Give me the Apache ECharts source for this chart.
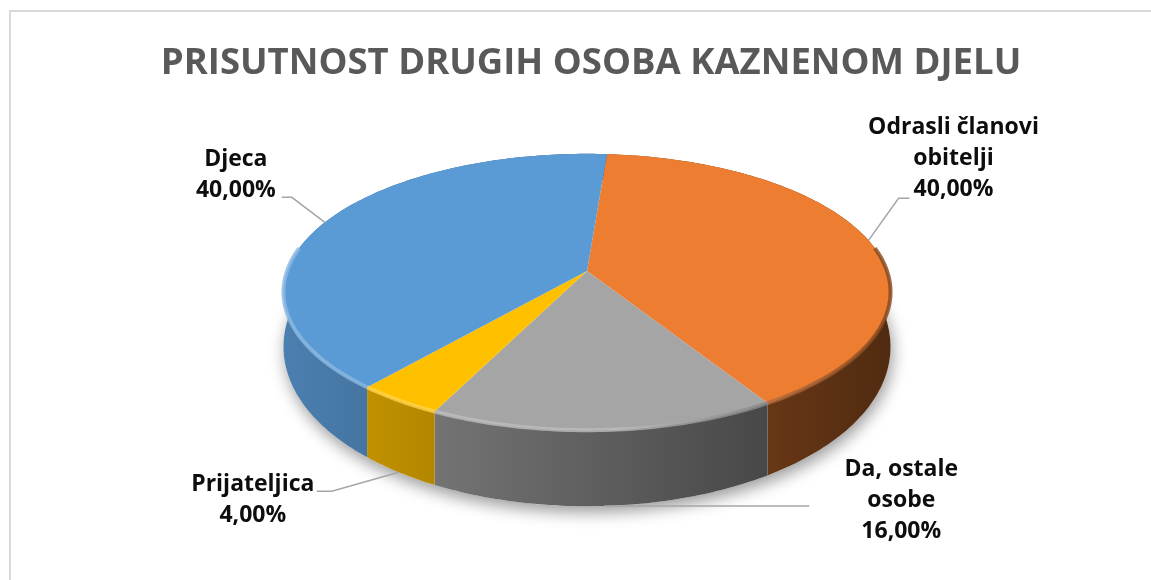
<!DOCTYPE html>
<html>
<head>
<meta charset="utf-8">
<title>Prisutnost drugih osoba kaznenom djelu</title>
<script src="https://cdn.jsdelivr.net/npm/echarts/dist/echarts.min.js"></script>
<style>
  html, body { margin: 0; padding: 0; background: #fff; }
  #chart { width: 1151px; height: 580px; }
</style>
</head>
<body>
<div id="chart"></div>
<script>
// podaci
const categories = ['Odrasli članovi obitelji', 'Da, ostale osobe', 'Prijateljica', 'Djeca']
const values = [40, 16, 4, 40]
const colors = ['#ed7d31', '#a5a5a5', '#ffc000', '#5b9bd5']
// tekst oznaka s prijelomom reda kao u originalu
const labelNames = ['Odrasli članovi\nobitelji', 'Da, ostale\nosobe', 'Prijateljica', 'Djeca']

// raspored oznaka (pomak od sidra na rubu kolača)
const labelLayout = [
  { elbow: [30, -42], end: [41, -42], text: [85, -82] },
  { elbow: [205, 0], end: [205, 0], text: [297, -5] },
  { elbow: [-67, 19], end: [-82, 19], text: [-146, 28] },
  { elbow: [-33, -25], end: [-43, -25], text: [-89, -47] }
]

// "3D" projekcija kolača
const cx = 587, cy = 271, rx = 300, ry = 135
const persp = -0.152
const startAngle = 4.4
const depth = v => 51 + 25 * v

const total = values.reduce((a, b) => a + b, 0)

const proj = (deg, bottom) => {
  const t = deg * Math.PI / 180
  const u = Math.sin(t)
  const v = -Math.cos(t)
  const w = 1 + persp * v
  let x = cx + rx * u / w
  let y = cy + ry * v / w
  if (bottom) y += depth(v)
  return [x, y]
}

const arc = (a0, a1, bottom) => {
  const pts = []
  const n = Math.max(2, Math.ceil(Math.abs(a1 - a0)))
  for (let i = 0; i <= n; i++) pts.push(proj(a0 + (a1 - a0) * i / n, bottom))
  return pts
}

const shade = (hex, f, mixWhite) => {
  const n = parseInt(hex.slice(1), 16)
  const ch = [(n >> 16) & 255, (n >> 8) & 255, n & 255].map(c => {
    c = c * f
    if (mixWhite) c = c + (255 - c) * mixWhite
    return Math.round(c)
  })
  return 'rgb(' + ch.join(',') + ')'
}

const pct = v => (v / total * 100).toFixed(2).replace('.', ',') + '%'

const renderItem = (params, api) => {
  const i = params.dataIndex
  let cum = 0
  for (let j = 0; j < i; j++) cum += values[j]
  const a0 = startAngle + 360 * cum / total
  const a1 = a0 + 360 * api.value(0) / total
  const color = colors[i]
  const children = []

  if (i === 0) {
    // sjena ispod kolača
    children.push({
      type: 'polygon',
      z2: 0,
      shape: { points: arc(0, 360, true) },
      style: {
        fill: '#fff',
        shadowColor: 'rgba(0,0,0,0.4)',
        shadowBlur: 16,
        shadowOffsetY: 6,
        shadowOffsetX: 2
      }
    })
  }

  // bočna stijenka
  children.push({
    type: 'polygon',
    z2: 1,
    shape: { points: arc(a0, a1, false).concat(arc(a1, a0, true)) },
    style: {
      fill: new echarts.graphic.LinearGradient(cx - rx, 0, cx + rx, 0, [
        { offset: 0, color: shade(color, 0.82) },
        { offset: 1, color: shade(color, 0.34) }
      ], true)
    }
  })

  // gornja ploha
  children.push({
    type: 'polygon',
    z2: 10,
    shape: { points: [[cx, cy]].concat(arc(a0, a1, false)) },
    style: { fill: color }
  })

  // kosina na prednjem rubu gornje plohe
  const r0 = Math.max(a0, 80), r1 = Math.min(a1, 280)
  if (r1 > r0) {
    children.push({
      type: 'polyline',
      z2: 11,
      shape: { points: arc(r0, r1, false) },
      style: {
        fill: null,
        lineWidth: 4,
        opacity: 0.8,
        stroke: new echarts.graphic.LinearGradient(cx - rx, 0, cx + rx, 0, [
          { offset: 0, color: shade(color, 1, 0.3) },
          { offset: 0.55, color: shade(color, 1, 0.25) },
          { offset: 1, color: shade(color, 0.55) }
        ], true)
      }
    })
  }

  // oznaka
  const mid = (a0 + a1) / 2
  const midV = -Math.cos(mid * Math.PI / 180)
  const anchor = proj(mid, midV > 0)
  const lay = labelLayout[i]
  children.push({
    type: 'polyline',
    z2: 20,
    shape: {
      points: [
        anchor,
        [anchor[0] + lay.elbow[0], anchor[1] + lay.elbow[1]],
        [anchor[0] + lay.end[0], anchor[1] + lay.end[1]]
      ]
    },
    style: { stroke: '#a6a6a6', lineWidth: 1.5, fill: null }
  })
  children.push({
    type: 'text',
    z2: 20,
    x: anchor[0] + lay.text[0],
    y: anchor[1] + lay.text[1],
    style: {
      text: labelNames[i] + '\n' + pct(api.value(0)),
      align: 'center',
      verticalAlign: 'middle',
      fontFamily: 'Open Sans',
      fontWeight: 'bold',
      fontSize: 23,
      lineHeight: 31,
      fill: '#0d0d0d'
    }
  })

  return { type: 'group', children }
}

const chart = echarts.init(document.getElementById('chart'))

const option = {
  backgroundColor: '#fff',
  animation: false,
  title: {
    text: 'PRISUTNOST DRUGIH OSOBA KAZNENOM DJELU',
    left: 586,
    top: 40,
    textAlign: 'center',
    textStyle: {
      fontFamily: 'Open Sans',
      fontWeight: 'bold',
      fontSize: 36.5,
      color: '#595959'
    }
  },
  graphic: [
    {
      type: 'rect',
      shape: { x: 10, y: 11, width: 1300, height: 700 },
      style: { fill: null, stroke: '#d9d9d9', lineWidth: 2 },
      silent: true
    }
  ],
  series: [
    {
      type: 'custom',
      coordinateSystem: 'none',
      renderItem: renderItem,
      data: values.map((v, i) => ({ name: categories[i], value: [v] }))
    }
  ]
}

chart.setOption(option)
window.addEventListener('resize', () => chart.resize())
</script>
</body>
</html>
